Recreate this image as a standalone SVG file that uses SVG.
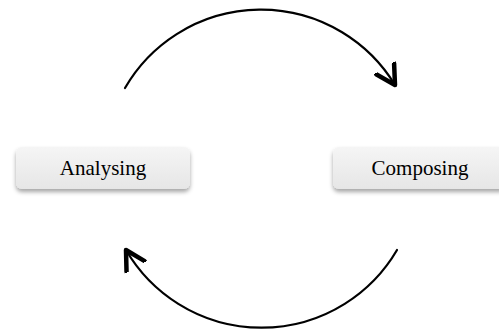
<svg xmlns="http://www.w3.org/2000/svg" width="499" height="329" viewBox="0 0 499 329">
  <defs>
    <linearGradient id="boxFill" x1="0" y1="0" x2="0" y2="1">
      <stop offset="0" stop-color="#f5f5f5"/>
      <stop offset="1" stop-color="#e6e6e6"/>
    </linearGradient>
    <filter id="shadow" x="-10%" y="-30%" width="120%" height="180%">
      <feDropShadow dx="0" dy="3" stdDeviation="2" flood-color="#000" flood-opacity="0.35"/>
    </filter>
    <marker id="arrow" markerUnits="userSpaceOnUse" markerWidth="40" markerHeight="40" refX="20" refY="20" orient="auto" viewBox="0 0 40 40">
      <path d="M1,9.5 L20,20 L1,30.5" fill="none" stroke="#000" stroke-width="4.5" stroke-linecap="round" stroke-linejoin="round"/>
    </marker>
  </defs>
  <style>
    .box { fill: url(#boxFill); filter: url(#shadow); }
    .label { font-family: "Liberation Serif", "Times New Roman", serif; font-size: 21px; fill: #000; text-anchor: middle; }
    .arc { fill: none; stroke: #000; stroke-width: 2.2; stroke-linecap: round; marker-end: url(#arrow); }
  </style>

  <g id="connectors">
    <path class="arc" d="M125,88 A157,157 0 0 1 395,85"/>
    <path class="arc" d="M397,250 A157,157 0 0 1 126,250"/>
  </g>

  <g id="analysing">
    <rect class="box" x="16" y="147" width="174" height="42" rx="6"/>
    <text class="label" x="103" y="175">Analysing</text>
  </g>

  <g id="composing">
    <rect class="box" x="333" y="147" width="174" height="42" rx="6"/>
    <text class="label" x="420" y="175">Composing</text>
  </g>
</svg>
